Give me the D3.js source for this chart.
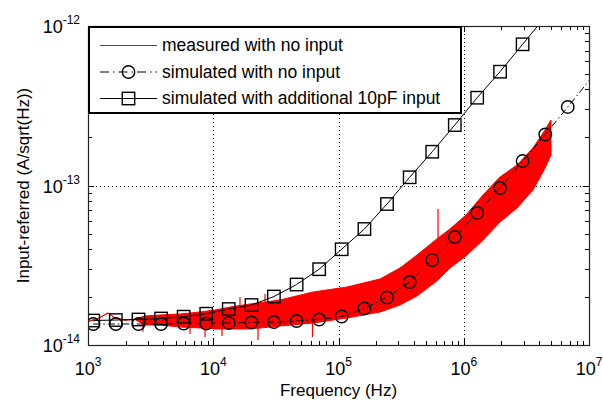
<!DOCTYPE html>
<meta charset="utf-8">
<head>
<script src="https://cdn.jsdelivr.net/npm/d3@7"></script>
<style>
    body { margin: 0; background: #fff; }
    text { font-family: "Liberation Sans", Arial, sans-serif; fill: #000; }
</style>
</head>
<body>
<svg id="svg" width="603" height="402"></svg>
<script>
// simulated points (Hz)
const simFreq = [1102, 1668, 2528, 3830, 5804, 8790, 13300, 20200, 30500, 46300, 70100,
    106000, 161000, 244000, 370000, 560000, 848000, 1280000, 1950000, 2950000, 4470000, 6770000, 10100000]
const simNoInput = [1.354e-14, 1.354e-14, 1.354e-14, 1.354e-14, 1.364e-14, 1.364e-14, 1.374e-14, 1.384e-14,
    1.393e-14, 1.414e-14, 1.445e-14, 1.509e-14, 1.694e-14, 1.985e-14, 2.483e-14, 3.410e-14, 4.754e-14,
    6.724e-14, 9.645e-14, 1.424e-13, 2.088e-13, 3.106e-13, 4.585e-13]
const simWith10pF = [1.424e-14, 1.434e-14, 1.445e-14, 1.466e-14, 1.505e-14, 1.571e-14, 1.681e-14, 1.781e-14,
    2.014e-14, 2.394e-14, 2.987e-14, 3.984e-14, 5.337e-14, 7.656e-14, 1.126e-13, 1.628e-13, 2.394e-13,
    3.551e-13, 5.170e-13, 7.679e-13, 1.14e-12, 1.68e-12]

// measured trace, read as lower / upper edge of the noisy band
const measFreq = [1000, 1202, 1444, 1643, 1974, 2372, 2852, 3757, 5427, 7839, 10330, 13610, 19650, 34120,
    62570, 116900, 214500, 309700, 423300, 623000, 776800, 1042000, 1424000, 1948000, 2662000, 3572000, 4454000, 4973000]
const measHigh = [1.404e-14, 1.466e-14, 1.587e-14, 1.477e-14, 1.434e-14, 1.455e-14, 1.520e-14, 1.542e-14,
    1.564e-14, 1.610e-14, 1.657e-14, 1.730e-14, 1.807e-14, 1.915e-14, 2.149e-14, 2.310e-14, 2.593e-14,
    3.039e-14, 3.666e-14, 4.686e-14, 5.337e-14, 6.531e-14, 8.717e-14, 1.131e-13, 1.344e-13, 1.718e-13, 2.228e-13, 2.574e-13]
const measLow = [1.404e-14, 1.466e-14, 1.587e-14, 1.477e-14, 1.434e-14, 1.445e-14, 1.335e-14, 1.335e-14,
    1.297e-14, 1.279e-14, 1.260e-14, 1.260e-14, 1.260e-14, 1.315e-14, 1.374e-14, 1.477e-14, 1.610e-14,
    1.781e-14, 2.029e-14, 2.556e-14, 3.039e-14, 3.614e-14, 4.552e-14, 5.904e-14, 7.226e-14, 9.371e-14, 1.287e-13, 1.553e-13]
// single spikes sticking out of the band
const spikeFreq = [2748, 6523, 8594, 11750, 16350, 22770, 25900, 62000, 623000]
const spikeFrom = [1.40e-14, 1.35e-14, 1.35e-14, 1.35e-14, 1.70e-14, 1.35e-14, 1.75e-14, 1.40e-14, 4.0e-14]
const spikeTo = [1.212e-14, 1.172e-14, 1.123e-14, 1.138e-14, 2.000e-14, 1.075e-14, 2.088e-14, 1.123e-14, 7.13e-14]

const xTicks = [1e3, 1e4, 1e5, 1e6, 1e7]
const xTickExp = ['3', '4', '5', '6', '7']
const yTicks = [1e-14, 1e-13, 1e-12]
const yTickExp = ['-14', '-13', '-12']
const legendLabels = ['measured with no input', 'simulated with no input', 'simulated with additional 10pF input']

const mLeft = 88, mRight = 589, mTop = 26, mBottom = 345

let svg = d3.select('#svg')

let x = d3.scaleLog().domain([1e3, 1e7]).range([mLeft, mRight])
let y = d3.scaleLog().domain([1e-14, 1e-12]).range([mBottom, mTop])

svg.append('clipPath').attr('id', 'clip')
    .append('rect').attr('x', mLeft).attr('y', mTop).attr('width', mRight - mLeft).attr('height', mBottom - mTop)

// dotted grid at decades
let grid = svg.append('g').attr('stroke', '#000').attr('stroke-width', 1).attr('stroke-dasharray', '1,3')
xTicks.slice(1, -1).forEach(t => {
    grid.append('line').attr('x1', Math.round(x(t)) + 0.5).attr('x2', Math.round(x(t)) + 0.5)
        .attr('y1', mTop).attr('y2', mBottom)
})
yTicks.slice(1, -1).forEach(t => {
    grid.append('line').attr('y1', Math.round(y(t)) + 0.5).attr('y2', Math.round(y(t)) + 0.5)
        .attr('x1', mLeft).attr('x2', mRight)
})

let plot = svg.append('g').attr('clip-path', 'url(#clip)')

// measured
let measIdx = d3.range(measFreq.length)
plot.append('path')
    .attr('d', d3.area().x(i => x(measFreq[i])).y0(i => y(measLow[i])).y1(i => y(measHigh[i]))(measIdx))
    .attr('fill', 'red').attr('stroke', 'red').attr('stroke-width', 1)
spikeFreq.forEach((f, i) => {
    plot.append('line').attr('x1', x(f)).attr('x2', x(f))
        .attr('y1', y(spikeFrom[i])).attr('y2', y(spikeTo[i]))
        .attr('stroke', 'red').attr('stroke-width', 1.2)
})

function inside(f, v) {
    return f >= 1e3 && f <= 1e7 && v >= 1e-14 && v <= 1e-12
}

// simulated, no input
let idx0 = d3.range(simNoInput.length)
plot.append('path')
    .attr('d', d3.line().x(i => x(simFreq[i])).y(i => y(simNoInput[i]))(idx0))
    .attr('fill', 'none').attr('stroke', '#000').attr('stroke-width', 1)
    .attr('stroke-dasharray', '7,3,1.5,3')
plot.selectAll('.circ').data(idx0.filter(i => inside(simFreq[i], simNoInput[i])))
    .enter().append('circle').attr('class', 'circ')
    .attr('cx', i => x(simFreq[i])).attr('cy', i => y(simNoInput[i])).attr('r', 6.2)
    .attr('fill', 'none').attr('stroke', '#000').attr('stroke-width', 1.4)

// simulated, additional 10pF
let idx1 = d3.range(simWith10pF.length)
plot.append('path')
    .attr('d', d3.line().x(i => x(simFreq[i])).y(i => y(simWith10pF[i]))(idx1))
    .attr('fill', 'none').attr('stroke', '#000').attr('stroke-width', 1)
plot.selectAll('.sq').data(idx1.filter(i => inside(simFreq[i], simWith10pF[i])))
    .enter().append('rect').attr('class', 'sq')
    .attr('x', i => x(simFreq[i]) - 6.2).attr('y', i => y(simWith10pF[i]) - 6.2)
    .attr('width', 12.4).attr('height', 12.4)
    .attr('fill', 'none').attr('stroke', '#000').attr('stroke-width', 1.4)

// ticks on all four sides
let ticks = svg.append('g').attr('stroke', '#000').attr('stroke-width', 1)
x.ticks().forEach(t => {
    let major = Math.abs(Math.log10(t) - Math.round(Math.log10(t))) < 1e-9
    let len = major ? 6 : 4
    let px = Math.round(x(t)) + 0.5
    ticks.append('line').attr('x1', px).attr('x2', px).attr('y1', mBottom).attr('y2', mBottom - len)
    ticks.append('line').attr('x1', px).attr('x2', px).attr('y1', mTop).attr('y2', mTop + len)
})
y.ticks().forEach(t => {
    let major = Math.abs(Math.log10(t) - Math.round(Math.log10(t))) < 1e-9
    let len = major ? 6 : 4
    let py = Math.round(y(t)) + 0.5
    ticks.append('line').attr('y1', py).attr('y2', py).attr('x1', mLeft).attr('x2', mLeft + len)
    ticks.append('line').attr('y1', py).attr('y2', py).attr('x1', mRight).attr('x2', mRight - len)
})

// axes box
svg.append('rect').attr('x', mLeft + 0.5).attr('y', mTop + 0.5)
    .attr('width', mRight - mLeft).attr('height', mBottom - mTop)
    .attr('fill', 'none').attr('stroke', '#222').attr('stroke-width', 1.2)

// tick labels
xTicks.forEach((t, i) => {
    let txt = svg.append('text').attr('x', x(t)).attr('y', 374.5)
        .attr('text-anchor', 'middle').style('font-size', '18px')
    txt.append('tspan').text('10')
    txt.append('tspan').attr('dy', -9).style('font-size', '12px').text(xTickExp[i])
})
yTicks.forEach((t, i) => {
    let txt = svg.append('text').attr('x', 80).attr('y', y(t) + 7)
        .attr('text-anchor', 'end').style('font-size', '18px')
    txt.append('tspan').text('10')
    txt.append('tspan').attr('dy', -9).style('font-size', '12px').text(yTickExp[i])
})

// axis titles
svg.append('text').attr('x', (mLeft + mRight) / 2).attr('y', 396)
    .attr('text-anchor', 'middle').style('font-size', '17px').text('Frequency (Hz)')
svg.append('text').attr('transform', 'translate(28.5,' + (mTop + mBottom) / 2 + ') rotate(-90)')
    .attr('text-anchor', 'middle').style('font-size', '17px').text('Input-referred (A/sqrt(Hz))')

// legend
let legend = svg.append('g')
legend.append('rect').attr('x', 89).attr('y', 27).attr('width', 372).attr('height', 86)
    .attr('fill', '#fff').attr('stroke', '#000').attr('stroke-width', 2)
let rowY = [45, 71.5, 98]
let row = legend.selectAll('.row').data(legendLabels).enter().append('g')
    .attr('transform', (d, i) => 'translate(0,' + rowY[i] + ')')
row.append('text').attr('x', 162).attr('y', 6).style('font-size', '17.5px').text(d => d)
row.append('line').attr('x1', 100).attr('x2', 157).attr('y1', 0.5).attr('y2', 0.5)
    .attr('stroke', (d, i) => i == 0 ? 'red' : '#000').attr('stroke-width', 1)
    .attr('stroke-dasharray', (d, i) => i == 1 ? '9,4,1.5,4' : null)
legend.append('circle').attr('cx', 128.5).attr('cy', rowY[1] + 0.5).attr('r', 6.2)
    .attr('fill', 'none').attr('stroke', '#000').attr('stroke-width', 1.4)
legend.append('rect').attr('x', 122.3).attr('y', rowY[2] - 5.7).attr('width', 12.4).attr('height', 12.4)
    .attr('fill', 'none').attr('stroke', '#000').attr('stroke-width', 1.4)
</script>
</body>
